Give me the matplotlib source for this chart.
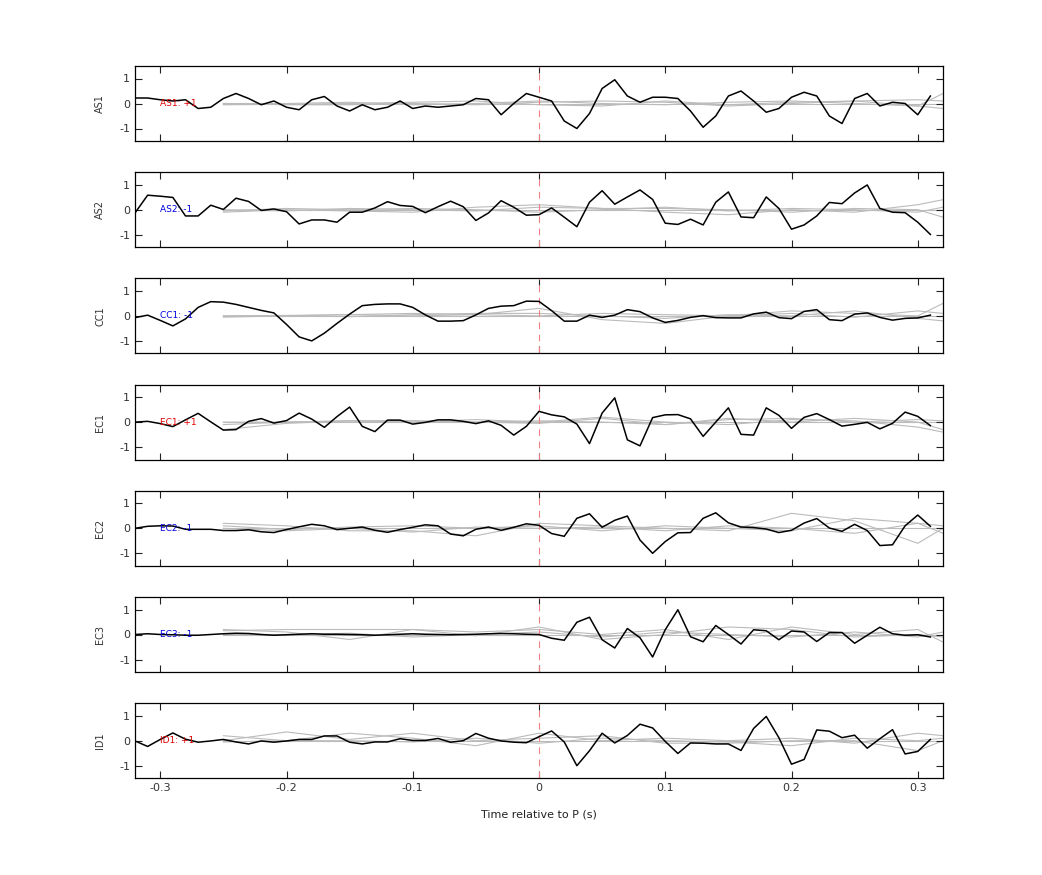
import numpy as np
import matplotlib
matplotlib.use("Agg")
import matplotlib.pyplot as plt

names = ["AS1", "AS2", "CC1", "EC1", "EC2", "EC3", "ID1"]
signs = ["+1", "-1", "-1", "+1", "-1", "-1", "+1"]
sign_colors = ["#e00000", "#0000dd", "#0000dd", "#e00000", "#0000dd", "#0000dd", "#e00000"]

t = np.round(np.arange(-0.32, 0.315, 0.01), 2)

AS1 = [0.22,0.22,0.15,0.1,0.15,-0.2,-0.15,0.2,0.4,0.2,-0.05,0.1,-0.15,-0.25,0.15,0.28,-0.1,-0.3,-0.05,-0.25,-0.15,0.1,-0.2,-0.1,-0.15,-0.1,-0.05,0.2,0.15,-0.45,0.0,0.4,0.25,0.1,-0.7,-1.0,-0.4,0.6,0.95,0.3,0.05,0.25,0.25,0.2,-0.3,-0.95,-0.5,0.3,0.5,0.1,-0.35,-0.2,0.25,0.45,0.3,-0.5,-0.8,0.2,0.4,-0.1,0.05,0.0,-0.45,0.3]
AS2 = [-0.13,0.58,0.54,0.49,-0.25,-0.25,0.18,0.01,0.46,0.33,-0.03,0.03,-0.08,-0.57,-0.41,-0.41,-0.5,-0.1,-0.1,0.07,0.32,0.17,0.13,-0.12,0.12,0.34,0.12,-0.43,-0.13,0.36,0.1,-0.22,-0.2,0.07,-0.3,-0.68,0.3,0.76,0.22,0.51,0.79,0.41,-0.54,-0.59,-0.38,-0.61,0.3,0.71,-0.29,-0.32,0.51,0.05,-0.78,-0.61,-0.25,0.29,0.24,0.67,0.99,0.05,-0.1,-0.12,-0.5,-0.99]
CC1 = [-0.07,0.03,-0.18,-0.4,-0.12,0.34,0.57,0.55,0.46,0.34,0.22,0.12,-0.34,-0.84,-1.0,-0.69,-0.3,0.07,0.41,0.46,0.48,0.48,0.34,0.04,-0.21,-0.21,-0.19,0.04,0.3,0.39,0.41,0.59,0.58,0.21,-0.21,-0.21,0.03,-0.06,0.03,0.25,0.17,-0.08,-0.26,-0.18,-0.06,0.01,-0.07,-0.08,-0.08,0.08,0.15,-0.07,-0.11,0.18,0.25,-0.15,-0.19,0.07,0.12,-0.06,-0.17,-0.1,-0.08,0.03]
EC1 = [0,0.03,-0.06,-0.18,0.09,0.35,0.01,-0.32,-0.3,0.03,0.14,-0.04,0.06,0.36,0.12,-0.21,0.22,0.6,-0.17,-0.38,0.08,0.08,-0.08,-0.01,0.09,0.09,0.03,-0.06,0.05,-0.13,-0.52,-0.17,0.43,0.29,0.21,-0.08,-0.86,0.36,0.97,-0.71,-0.95,0.18,0.29,0.3,0.13,-0.57,0,0.57,-0.49,-0.52,0.57,0.27,-0.25,0.19,0.34,0.1,-0.16,-0.09,-0.01,-0.27,-0.05,0.4,0.23,-0.14]
EC2 = [0,0.08,0.1,0.09,-0.04,-0.04,-0.04,-0.09,-0.09,-0.06,-0.14,-0.17,-0.05,0.06,0.16,0.1,-0.05,0,0.05,-0.08,-0.16,-0.05,0.04,0.14,0.1,-0.23,-0.3,-0.04,0.05,-0.08,0.04,0.18,0.12,-0.21,-0.32,0.4,0.58,0.04,0.32,0.49,-0.47,-1.0,-0.53,-0.18,-0.17,0.4,0.62,0.22,0.05,0.03,-0.03,-0.17,-0.08,0.21,0.39,0.01,-0.12,0.16,-0.09,-0.69,-0.66,0.1,0.53,0.08]
EC3 = [0,0.03,0,-0.01,-0.03,-0.03,0,0.03,0.05,0.04,0,-0.03,-0.01,0.01,0.03,0.01,0.01,0,-0.01,-0.03,-0.01,0.01,0.03,0.01,0,-0.01,0,0.01,0.03,0.04,0.03,0.01,0,-0.15,-0.23,0.49,0.69,-0.21,-0.54,0.24,-0.13,-0.9,0.19,0.99,-0.09,-0.29,0.36,0,-0.38,0.19,0.15,-0.21,0.14,0.1,-0.28,0.08,0.08,-0.35,-0.03,0.29,0.03,-0.03,-0.01,-0.1]
ID1 = [-0.01,-0.23,0.05,0.31,0.06,-0.06,-0.01,0.05,-0.05,-0.13,-0.01,-0.06,-0.01,0.05,0.05,0.19,0.19,-0.06,-0.13,-0.05,-0.05,0.08,0.01,0.01,0.09,-0.06,0,0.29,0.1,-0.01,-0.06,-0.08,0.16,0.39,-0.05,-1.0,-0.4,0.3,-0.09,0.21,0.66,0.51,-0.03,-0.51,-0.09,-0.1,-0.13,-0.13,-0.39,0.49,0.97,0.12,-0.94,-0.75,0.43,0.38,0.12,0.22,-0.3,0.08,0.44,-0.53,-0.43,0.05]
black = [AS1, AS2, CC1, EC1, EC2, EC3, ID1]

# grey comparison traces (sparse samples)
tg = [-0.25,-0.2,-0.15,-0.1,-0.05,0.0,0.05,0.1,0.15,0.2,0.25,0.3,0.32]
grey = [
    [[0,0,0,0,0,0,0,0,0,0,0,0,0],[-0.05,-0.03,0,0.05,0.1,-0.05,-0.1,0.1,-0.05,0.05,0.1,-0.1,0.4],
     [0,-0.05,-0.05,0,-0.05,0.05,0.1,0.05,-0.1,0,0.1,0.15,0.1],[0,0,0.05,-0.05,0,0.1,0,-0.05,0.05,0.1,0,-0.1,-0.2]],
    [[0,0,0,0,0,0,0,0,0,0,0,0,0],[-0.1,0,-0.05,-0.1,0.1,0.2,0.05,-0.1,-0.2,0,-0.1,0.2,0.4],
     [0,-0.05,0.05,0,-0.05,0.1,0.05,0.05,0,-0.1,0.05,0,-0.3],[-0.05,0.05,0,0.05,0,-0.1,0,0.1,-0.05,0.05,0,-0.1,0.1]],
    [[0,0,0,0,0,0,0,0,0,0,0,0,0],[0,0.02,0.05,0.1,0.05,0.3,-0.15,-0.3,0,0.2,0.1,0,0.5],
     [0,0,-0.03,0.05,0.1,0.1,0,-0.1,0.05,0,0.2,-0.1,-0.2],[-0.05,0,0.05,0,0.05,0,0.1,0.05,0,0.1,-0.05,0.2,0.1]],
    [[0,0,0,0,0,0,0,0,0,0,0,0,0],[-0.3,-0.05,0.05,0.05,0,-0.05,0.15,-0.1,0.15,0,0.15,0,-0.3],
     [-0.1,0,0.05,0,0.1,0,0.2,0,-0.1,0.1,0.05,-0.2,-0.4],[0,0,0.05,0.05,0,0.05,0,-0.1,0.1,0.15,0,0.1,0.05]],
    [[0,0,0,0,0,0,0,0,0,0,0,0,0],[0.2,0.1,-0.1,-0.1,-0.3,0.2,0.1,0,-0.1,0.6,0.3,-0.6,0],
     [0.1,-0.05,0.05,0.1,0,0.1,-0.1,0.1,0,-0.1,0.4,0.2,-0.2],[0,-0.1,0,-0.15,0.05,0,0.05,-0.1,0.1,0,-0.2,0.2,0.1]],
    [[0,0,0,0,0,0,0,0,0,0,0,0,0],[0.2,0.1,-0.2,0.2,0.1,0.2,0,0.2,-0.2,0.3,0,0.2,-0.3],
     [0.15,0.2,0.2,0.2,-0.05,0.3,-0.2,0,0.3,0.2,-0.1,0,-0.1],[0,0,0.05,-0.1,0,0.1,-0.1,0.1,0,-0.1,0.1,-0.1,0.1]],
    [[0,0,0,0,0,0,0,0,0,0,0,0,0],[0.2,0,0.3,0.1,-0.2,0.3,0,0.1,0,0.1,-0.1,0.3,0.2],
     [0,0.35,0.05,0.3,0,0.1,0.2,-0.1,-0.1,0,0,-0.4,0],[-0.05,0,0,-0.05,0.1,-0.1,0.1,0,-0.05,-0.2,0.1,0,0.1]],
]

fig = plt.figure(figsize=(10.42, 8.75), dpi=100)
L, W, H = 135/1042, 808/1042, 75/875
for k in range(7):
    top = 66 + 106.2*k
    ax = fig.add_axes([L, 1-(top+75)/875, W, H])
    for g in grey[k]:
        ax.plot(tg, g, color="#bbbbbb", lw=0.8, zorder=1)
    ax.axvline(0, color="#f08080", lw=0.8, ls=(0, (6, 5)), zorder=2)
    ax.plot(t, black[k], color="black", lw=1.1, zorder=3)
    ax.text(-0.30, 0, f"{names[k]}: {signs[k]}", color=sign_colors[k], fontsize=6.5, va="center", ha="left", zorder=4)
    ax.set_xlim(-0.32, 0.32)
    ax.set_ylim(-1.5, 1.5)
    ax.set_yticks([-1, 0, 1])
    ax.set_yticklabels(["-1", "0", "1"])
    ax.set_xticks([-0.3, -0.2, -0.1, 0, 0.1, 0.2, 0.3])
    ax.tick_params(direction="in", top=True, right=True, labelsize=8, colors="#222222", length=5, labelcolor="#333333")
    ax.set_ylabel(names[k], fontsize=7, color="#333333", labelpad=10)
    if k < 6:
        ax.set_xticklabels([])
    else:
        ax.set_xticklabels(["-0.3", "-0.2", "-0.1", "0", "0.1", "0.2", "0.3"])
        ax.set_xlabel("Time relative to P (s)", fontsize=8, color="#222222", labelpad=12)
    for s in ax.spines.values():
        s.set_linewidth(0.9)

fig.savefig("out.png", dpi=100)
